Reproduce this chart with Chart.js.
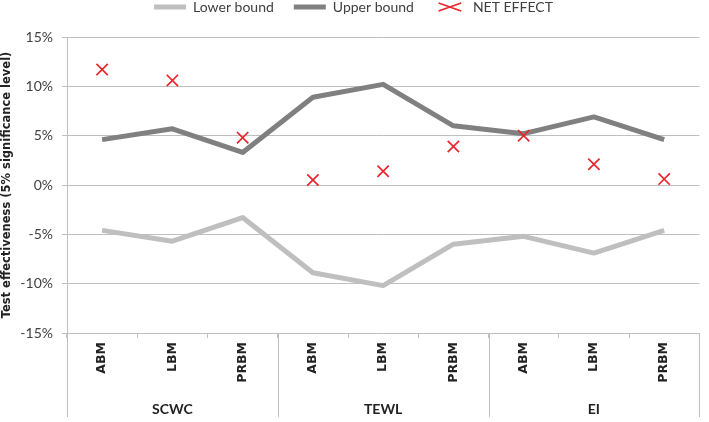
<!DOCTYPE html>
<html>
<head>
<meta charset="utf-8">
<script src="https://cdn.jsdelivr.net/npm/chart.js@4.4.1/dist/chart.umd.min.js"></script>
<style>
  html, body { margin: 0; padding: 0; background: #fff; }
  #wrap { width: 709px; height: 422px; }
</style>
</head>
<body>
<div id="wrap"><canvas id="effChart"></canvas></div>
<script>
// data (percent)
var methods = ["ABM", "LBM", "PRBM", "ABM", "LBM", "PRBM", "ABM", "LBM", "PRBM"];
var groups = ["SCWC", "TEWL", "EI"];
var lowerBound = [-4.6, -5.7, -3.3, -8.9, -10.2, -6.0, -5.2, -6.9, -4.6];
var upperBound = [4.6, 5.7, 3.3, 8.9, 10.2, 6.0, 5.2, 6.9, 4.6];
var netEffect = [11.7, 10.6, 4.8, 0.5, 1.4, 3.9, 5.0, 2.1, 0.6];
var yTicks = [-15, -10, -5, 0, 5, 10, 15];

var gridCol = "#BFBFBF";
var txtCol = "#404040";

// long lines between groups under the axis
var groupLines = {
  id: "groupLines",
  afterInit: function(chart) {
    // leave more room under the legend
    var lg = chart.legend;
    if (lg) {
      var fit = lg.fit;
      lg.fit = function() { fit.call(this); this.height += 13; };
    }
  },
  afterDraw: function(chart) {
    var x2 = chart.scales.x2;
    var ctx = chart.ctx;
    var step = (x2.right - x2.left) / groups.length;
    ctx.save();
    ctx.strokeStyle = gridCol;
    ctx.lineWidth = 1;
    for (var i = 0; i <= groups.length; i++) {
      var px = Math.round(x2.left + i * step) + 0.5;
      ctx.beginPath();
      ctx.moveTo(px, chart.chartArea.bottom);
      ctx.lineTo(px, 417);
      ctx.stroke();
    }
    ctx.restore();
  }
};

new Chart("effChart", {
  type: "line",
  data: {
    labels: methods,
    datasets: [{
      label: "Lower bound",
      data: lowerBound,
      borderColor: "#BFBFBF",
      backgroundColor: "#BFBFBF",
      borderWidth: 5,
      pointRadius: 0,
      borderJoinStyle: "round",
      order: 2
    }, {
      label: "Upper bound",
      data: upperBound,
      borderColor: "#808080",
      backgroundColor: "#808080",
      borderWidth: 5,
      pointRadius: 0,
      borderJoinStyle: "round",
      order: 1
    }, {
      label: "NET EFFECT",
      data: netEffect,
      showLine: false,
      pointStyle: "crossRot",
      pointRadius: 8,
      pointBorderWidth: 1.7,
      borderColor: "#E8262C",
      backgroundColor: "#E8262C",
      order: 0
    }]
  },
  plugins: [groupLines],
  options: {
    responsive: true,
    maintainAspectRatio: false,
    animation: false,
    layout: { padding: { top: -20, right: 2, left: 0, bottom: 0 } },
    plugins: {
      tooltip: { enabled: false },
      legend: {
        position: "top",
        labels: {
          usePointStyle: true,
          pointStyleWidth: 32,
          boxHeight: 8,
          padding: 20,
          color: txtCol,
          font: { family: "Lato", size: 14 },
          generateLabels: function(chart) {
            return chart.data.datasets.map(function(ds, i) {
              var isLine = ds.showLine !== false;
              return {
                text: ds.label,
                datasetIndex: i,
                fillStyle: ds.borderColor,
                strokeStyle: ds.borderColor,
                lineWidth: isLine ? 5 : 1.7,
                pointStyle: isLine ? "line" : "crossRot",
                fontColor: txtCol,
                hidden: false
              };
            });
          }
        }
      }
    },
    scales: {
      y: {
        min: -15,
        max: 15,
        afterFit: function(s) { s.width = 67; },
        afterBuildTicks: function(s) {
          s.ticks = yTicks.map(function(v) { return { value: v }; });
        },
        ticks: {
          padding: 9,
          color: txtCol,
          font: { family: "Lato", size: 14 },
          callback: function(v) { return v + "%"; }
        },
        grid: { color: gridCol, tickLength: 5, lineWidth: 1 },
        border: { color: gridCol },
        title: {
          display: true,
          text: "Test effectiveness (5% significance level)",
          color: "#222",
          padding: { top: 0, bottom: 0 },
          font: { family: "DejaVu Sans", size: 11.5, weight: "bold" }
        }
      },
      x: {
        offset: true,
        afterFit: function(s) { s.height = 58; },
        grid: { drawOnChartArea: false, offset: true, tickLength: 5, color: gridCol },
        border: { display: false },
        ticks: {
          minRotation: 90,
          maxRotation: 90,
          padding: 4,
          color: "#222",
          font: { family: "DejaVu Sans", size: 12.5, weight: "bold" }
        }
      },
      x2: {
        type: "category",
        labels: groups,
        position: "bottom",
        offset: true,
        afterFit: function(s) { s.height = 31; },
        grid: { display: false },
        border: { display: false },
        ticks: {
          padding: 2,
          color: "#222",
          font: { family: "Lato", size: 14, weight: "bold" }
        }
      }
    }
  }
});
</script>
</body>
</html>
